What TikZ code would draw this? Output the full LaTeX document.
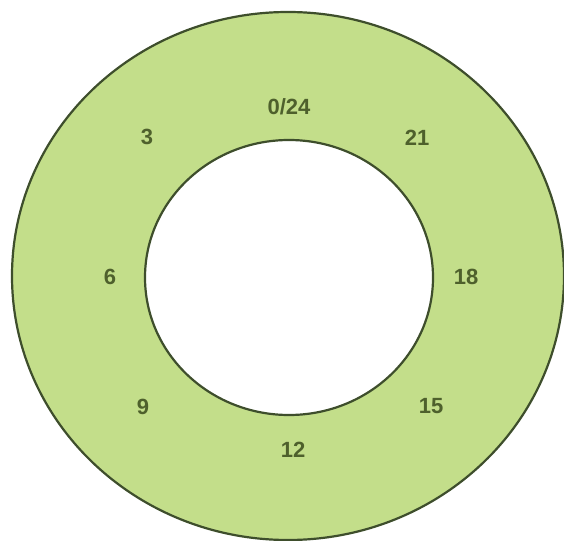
\documentclass[tikz,border=0pt]{standalone}
\usepackage{fontspec}
\setmainfont{Liberation Sans}
\definecolor{ringfill}{RGB}{195,222,138}
\definecolor{ringline}{RGB}{62,78,44}
\definecolor{labelcol}{RGB}{78,96,44}
\begin{document}
\begin{tikzpicture}[x=1pt,y=-1pt,
  hourlabel/.style={font=\bfseries\fontsize{22}{26}\selectfont, text=labelcol, inner sep=0pt}]
\useasboundingbox (0,0) rectangle (564,540);
\clip (0,0) rectangle (564,540);
\fill[white] (0,0) rectangle (564,540);
\draw[ringline, line width=2.2pt, fill=ringfill] (288,276) ellipse [x radius=276, y radius=264];
\draw[ringline, line width=2.2pt, fill=white] (289,277.5) ellipse [x radius=144, y radius=137.5];
\node[hourlabel] (h0) at (289,107) {0/24};
\node[hourlabel] (h3) at (147,137) {3};
\node[hourlabel] (h21) at (417,138) {21};
\node[hourlabel] (h6) at (110,277) {6};
\node[hourlabel] (h18) at (466,277) {18};
\node[hourlabel] (h9) at (143,407) {9};
\node[hourlabel] (h15) at (431,406) {15};
\node[hourlabel] (h12) at (293,450) {12};
\end{tikzpicture}
\end{document}
